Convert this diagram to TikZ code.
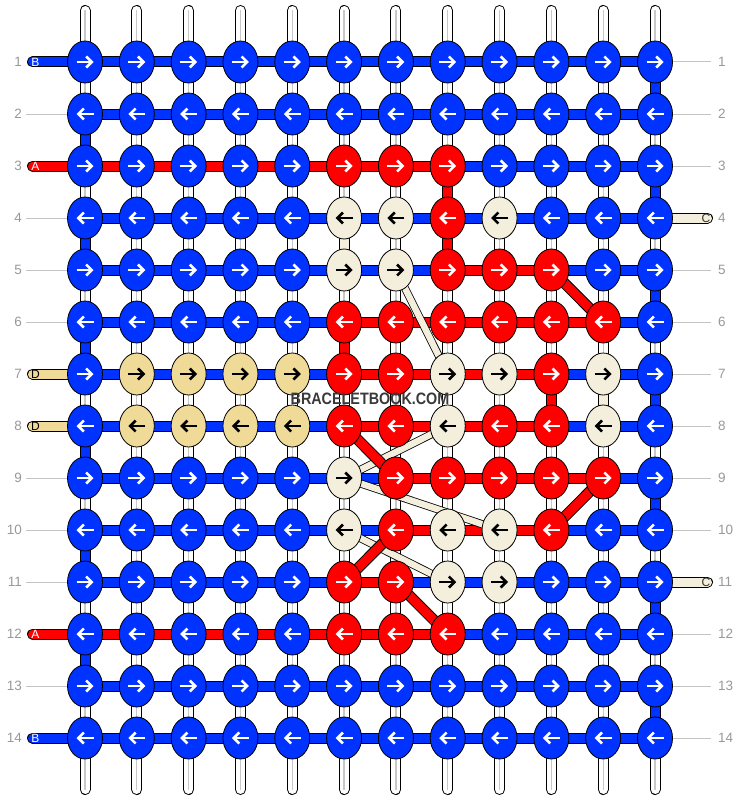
\documentclass[tikz,border=0pt]{standalone}
\usepackage{fontspec}
\setmainfont{Liberation Sans}
\usetikzlibrary{arrows.meta,shapes.geometric}
\definecolor{kB}{HTML}{0033FF}
\definecolor{kR}{HTML}{FF0000}
\definecolor{kC}{HTML}{F4EEDC}
\definecolor{kD}{HTML}{F0DA98}
\colorlet{aB}{white}\colorlet{aR}{white}\colorlet{aC}{black}\colorlet{aD}{black}
\definecolor{lblgray}{HTML}{999999}
\definecolor{lngray}{HTML}{C4C4C4}
\definecolor{warpgray}{HTML}{C8C8C8}
\definecolor{wmgray}{HTML}{3A3A3A}
\tikzset{
  barout/.style={line width=11pt, black},
  barin/.style={line width=9pt},
  thinout/.style={line width=8pt, black},
  thinin/.style={line width=6.4pt},
  knot/.style={ellipse, draw=black, line width=0.8pt, minimum width=35pt, minimum height=42pt, inner sep=0pt},
  arr/.style={line width=2.6pt, -{Straight Barb[length=5.5pt,width=11pt]}},
  lbl/.style={text=lblgray, font=\fontsize{13.5}{15}\selectfont, inner sep=0pt},
  ltr/.style={font=\fontsize{12}{13}\selectfont, inner sep=0pt},
}
\begin{document}
\begin{tikzpicture}[x=1pt,y=-1pt]
\fill[white] (0,0) rectangle (740,800);
\useasboundingbox (0,0) rectangle (740,800);
% grid coordinates
\foreach \r in {1,...,14}{
  \foreach \c in {1,...,12}{
    \coordinate (p-\r-\c) at ({85+(\c-1)*51.82},{62+(\r-1)*52});
  }
  \coordinate (gl-\r) at (26,{62+(\r-1)*52});
  \coordinate (gr-\r) at (711,{62+(\r-1)*52});
  \coordinate (el-\r) at (32.5,{62+(\r-1)*52});
  \coordinate (er-\r) at (707.5,{62+(\r-1)*52});
}
\foreach \c in {1,...,12}{
  \coordinate (wt-\c) at ({85+(\c-1)*51.82},10.5);
  \coordinate (wb-\c) at ({85+(\c-1)*51.82},789.5);
}
% row numbers and guide lines
\foreach \r in {1,...,14}{
  \node[lbl, anchor=east] at ([xshift=-4pt]gl-\r) {\r};
  \node[lbl, anchor=west] at ([xshift=7pt]gr-\r) {\r};
}
\foreach \r in {2,4,5,6,9,10,11,13}{ \draw[lngray, line width=1pt] (gl-\r) -- (p-\r-1); }
\foreach \r in {1,2,3,5,6,7,8,9,10,12,13,14}{ \draw[lngray, line width=1pt] (p-\r-12) -- (gr-\r); }
% warp strings
\foreach \c in {1,...,12}{
  \draw[line width=11pt, black, line cap=round] (wt-\c) -- (wb-\c);
  \draw[line width=9pt, white, line cap=round] (wt-\c) -- (wb-\c);
  \draw[line width=1.3pt, warpgray] (wt-\c) -- (wb-\c);
}
% entry strings
\foreach \r/\k/\l/\t in {1/B/B/white,3/R/A/white,7/D/D/black,8/D/D/black,12/R/A/white,14/B/B/white}{
  \draw[barout, line cap=round] (el-\r) -- (p-\r-1);
  \draw[barin, color=k\k, line cap=round] (el-\r) -- (p-\r-1);
  \node[ltr, text=\t] at ([xshift=3pt]el-\r) {\l};
}
\foreach \r in {4,11}{
  \draw[barout, line cap=round] (p-\r-12) -- (er-\r);
  \draw[barin, color=kC, line cap=round] (p-\r-12) -- (er-\r);
  \node[ltr, text=black!80] at ([xshift=-1.5pt]er-\r) {C};
}
% horizontal weft segments
\foreach \r/\segs in {
 1/{B,B,B,B,B,B,B,B,B,B,B},
 2/{B,B,B,B,B,B,B,B,B,B,B},
 3/{R,R,R,R,R,R,R,B,B,B,B},
 4/{B,B,B,B,B,B,B,B,B,B,B},
 5/{B,B,B,B,B,B,B,R,R,B,B},
 6/{B,B,B,B,B,R,R,R,R,R,B},
 7/{B,B,B,B,B,R,R,R,R,B,B},
 8/{B,B,B,B,B,R,R,R,R,B,B},
 9/{B,B,B,B,B,B,R,R,R,R,B},
 10/{B,B,B,B,B,B,R,R,R,B,B},
 11/{B,B,B,B,B,R,B,B,B,B,B},
 12/{R,R,R,R,R,R,R,B,B,B,B},
 13/{B,B,B,B,B,B,B,B,B,B,B},
 14/{B,B,B,B,B,B,B,B,B,B,B}}{
  \foreach \s [count=\c] in \segs {
    \pgfmathtruncatemacro\n{\c+1}
    \draw[barout] (p-\r-\c) -- (p-\r-\n);
    \draw[barin, color=k\s] (p-\r-\c) -- (p-\r-\n);
  }
}
% vertical coloured segments
\foreach \c/\r/\k in {12/1/B,1/2/B,8/3/R,12/3/B,1/4/B,6/4/C,8/4/R,12/5/B,1/6/B,6/6/R,10/7/R,11/7/C,12/7/B,1/8/B,12/9/B,1/10/B,12/11/B,1/12/B,12/13/B}{
  \pgfmathtruncatemacro\n{\r+1}
  \draw[barout] (p-\r-\c) -- (p-\n-\c);
  \draw[barin, color=k\k] (p-\r-\c) -- (p-\n-\c);
}
% cream diagonals
\foreach \ra/\ca/\rb/\cb in {5/7/7/8, 8/8/9/6, 9/6/10/9, 10/6/11/8}{
  \draw[thinout] (p-\ra-\ca) -- (p-\rb-\cb);
  \draw[thinin, color=kC] (p-\ra-\ca) -- (p-\rb-\cb);
}
% red diagonals
\foreach \ra/\ca/\rb/\cb in {5/10/6/11, 8/6/9/7, 9/11/10/10, 10/7/11/6, 11/7/12/8}{
  \draw[barout] (p-\ra-\ca) -- (p-\rb-\cb);
  \draw[barin, color=kR] (p-\ra-\ca) -- (p-\rb-\cb);
}
% knots
\foreach \r/\ks in {
 1/{B,B,B,B,B,B,B,B,B,B,B,B},
 2/{B,B,B,B,B,B,B,B,B,B,B,B},
 3/{B,B,B,B,B,R,R,R,B,B,B,B},
 4/{B,B,B,B,B,C,C,R,C,B,B,B},
 5/{B,B,B,B,B,C,C,R,R,R,B,B},
 6/{B,B,B,B,B,R,R,R,R,R,R,B},
 7/{B,D,D,D,D,R,R,C,C,R,C,B},
 8/{B,D,D,D,D,R,R,C,R,R,C,B},
 9/{B,B,B,B,B,C,R,R,R,R,R,B},
 10/{B,B,B,B,B,C,R,C,C,R,B,B},
 11/{B,B,B,B,B,R,R,C,C,B,B,B},
 12/{B,B,B,B,B,R,R,R,B,B,B,B},
 13/{B,B,B,B,B,B,B,B,B,B,B,B},
 14/{B,B,B,B,B,B,B,B,B,B,B,B}}{
  \foreach \k [count=\c] in \ks {
    \node[knot, fill=k\k] (k-\r-\c) at (p-\r-\c) {};
    \ifodd\r
      \draw[arr, draw=a\k] ([xshift=-8.5pt]k-\r-\c.center) -- ([xshift=8.5pt]k-\r-\c.center);
    \else
      \draw[arr, draw=a\k] ([xshift=8.5pt]k-\r-\c.center) -- ([xshift=-8.5pt]k-\r-\c.center);
    \fi
  }
}
% watermark
\node[text=wmgray, font=\bfseries\fontsize{16.5}{18}\selectfont, inner sep=0pt] (wm) at (370,399) {\scalebox{0.87}[1]{BRACELETBOOK.COM}};
\end{tikzpicture}
\end{document}
